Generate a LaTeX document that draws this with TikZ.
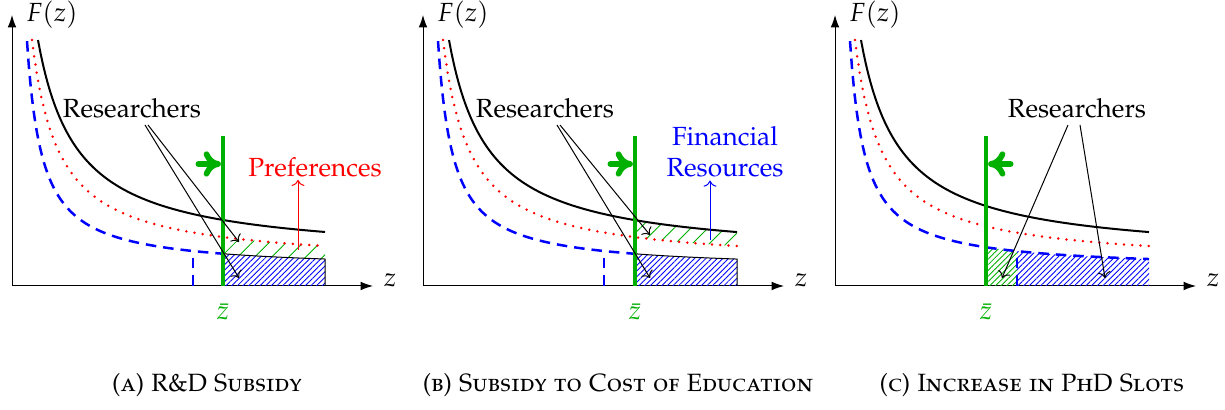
\documentclass[tikz,border=0pt]{standalone}
\usepackage[T1]{fontenc}
\usepackage[sc]{mathpazo}
\usetikzlibrary{arrows.meta,patterns.meta}
\definecolor{zgreen}{RGB}{0,176,0}
\tikzset{
  axis/.style={thin,-{Latex[length=5pt,width=3.5pt]}},
  blackcurve/.style={thick,black},
  redcurve/.style={red,line width=1.1pt,line cap=round,dash pattern=on 0pt off 3.3pt},
  bluecurve/.style={blue,line width=1pt,dash pattern=on 4.2pt off 2.8pt},
  zline/.style={zgreen,line width=1.6pt},
  thinarrow/.style={thin,-{To}},
  lbl/.style={font=\fontsize{10.5}{12.6}\selectfont,inner sep=1pt},
  bluehatch/.style={pattern={Lines[angle=45,distance=1.6pt,line width=0.35pt]},pattern color=blue},
  greenhatch/.style={pattern={Lines[angle=45,distance=1.6pt,line width=0.35pt]},pattern color=zgreen},
  sparsehatch/.style={pattern={Lines[angle=45,distance=4.8pt,line width=0.35pt]},pattern color=zgreen},
  capt/.style={font=\fontsize{10}{12}\selectfont\scshape},
  garrow/.pic={
    \draw[zgreen,line width=2.4pt,line cap=round] (-7.8pt,0) -- (-1pt,0);
    \draw[zgreen,line width=2.3pt,line cap=round,line join=round]
      (-4.6pt,3.9pt) .. controls (-3.7pt,1.7pt) and (-2pt,0.25pt) .. (0,0)
      .. controls (-2pt,-0.25pt) and (-3.7pt,-1.7pt) .. (-4.6pt,-3.9pt);
  },
}
\begin{document}
\begin{tikzpicture}[x=0.4pt,y=0.4pt,
  declare function={fb(\x)=27.6+8623/(\x+13.5); fr(\x)=20.7+6175/(\x+7.41); fu(\x)=16+3433/\x;}]
\useasboundingbox (0,0) rectangle (1225,410);
\fill[white] (0,0) rectangle (1225,410);

% ---------------- Panel A ----------------
\begin{scope}[shift={(12,124)}]
  \coordinate (oA) at (0,0);
  \coordinate (yA) at (0,271);
  \coordinate (xA) at (361,0);
  \draw[axis] (oA) -- (yA);
  \draw[axis] (oA) -- (xA);
  \node[lbl,anchor=west] (zA) at (369,6) {$z$};
  \node[lbl] (FA) at (40,271) {$F(z)$};
  % hatched regions
  \path[sparsehatch] plot[domain=211:313,samples=40] (\x,{fr(\x)}) -- plot[domain=313:211,samples=40] (\x,{fu(\x)}) -- cycle;
  \path[bluehatch] (211,0) -- plot[domain=211:313,samples=40] (\x,{fu(\x)}) -- (313,0) -- cycle;
  % curves
  \draw[blackcurve] plot[domain=26:313,samples=120] (\x,{fb(\x)});
  \draw[redcurve] plot[domain=20:313,samples=120] (\x,{fr(\x)});
  \draw[bluecurve] plot[domain=15:211,samples=120] (\x,{fu(\x)});
  \draw[bluecurve] (181,0) -- (181,{fu(181)});
  \draw[thin] (211,0) -- plot[domain=211:313,samples=40] (\x,{fu(\x)}) -- (313,0);
  % zbar
  \coordinate (zbA0) at (211,0);
  \coordinate (zbA1) at (211,150);
  \draw[zline] (zbA0) -- (zbA1);
  \node[lbl,text=zgreen] (zbA) at (211,-26) {$\bar z$};
  \coordinate (gaA) at (206,122);
  \pic at (gaA) {garrow};
  % labels
  \node[lbl] (rA) at (120,178) {Researchers};
  \coordinate (rA1) at (133,161);
  \coordinate (rA2) at (136,161);
  \coordinate (rAe1) at (227,8);
  \coordinate (rAe2) at (227,44);
  \draw[thinarrow] (rA1) -- (rAe1);
  \draw[thinarrow] (rA2) -- (rAe2);
  \node[lbl,text=red] (pA) at (303,119) {Preferences};
  \coordinate (pA0) at (286,36);
  \draw[thinarrow,red] (pA0) -- (pA.south -| pA0);
\end{scope}

% ---------------- Panel B ----------------
\begin{scope}[shift={(423,124)}]
  \coordinate (oB) at (0,0);
  \coordinate (yB) at (0,271);
  \coordinate (xB) at (361,0);
  \draw[axis] (oB) -- (yB);
  \draw[axis] (oB) -- (xB);
  \node[lbl,anchor=west] (zB) at (369,6) {$z$};
  \node[lbl] (FB) at (40,271) {$F(z)$};
  \path[sparsehatch] plot[domain=212:314,samples=40] (\x,{fb(\x)}) -- plot[domain=314:212,samples=40] (\x,{fr(\x)}) -- cycle;
  \path[bluehatch] (212,0) -- plot[domain=212:314,samples=40] (\x,{fu(\x)}) -- (314,0) -- cycle;
  \draw[blackcurve] plot[domain=26:314,samples=120] (\x,{fb(\x)});
  \draw[redcurve] plot[domain=20:314,samples=120] (\x,{fr(\x)});
  \draw[bluecurve] plot[domain=15:212,samples=120] (\x,{fu(\x)});
  \draw[bluecurve] (181,0) -- (181,{fu(181)});
  \draw[thin] (212,0) -- plot[domain=212:314,samples=40] (\x,{fu(\x)}) -- (314,0);
  \coordinate (zbB0) at (212,0);
  \coordinate (zbB1) at (212,150);
  \draw[zline] (zbB0) -- (zbB1);
  \node[lbl,text=zgreen] (zbB) at (212,-26) {$\bar z$};
  \coordinate (gaB) at (207,122);
  \pic at (gaB) {garrow};
  \node[lbl] (rB) at (122,178) {Researchers};
  \coordinate (rB1) at (134,161);
  \coordinate (rB2) at (137,161);
  \coordinate (rBe1) at (227,8);
  \coordinate (rBe2) at (227,51);
  \draw[thinarrow] (rB1) -- (rBe1);
  \draw[thinarrow] (rB2) -- (rBe2);
  \node[lbl,text=blue,align=center] (fB) at (302,134) {Financial\\Resources};
  \coordinate (fB0) at (287,46);
  \draw[thinarrow,blue] (fB0) -- (fB.south -| fB0);
\end{scope}

% ---------------- Panel C ----------------
\begin{scope}[shift={(835,124)}]
  \coordinate (oC) at (0,0);
  \coordinate (yC) at (0,271);
  \coordinate (xC) at (361,0);
  \draw[axis] (oC) -- (yC);
  \draw[axis] (oC) -- (xC);
  \node[lbl,anchor=west] (zC) at (369,6) {$z$};
  \node[lbl] (FC) at (40,271) {$F(z)$};
  \path[greenhatch] (151,0) -- plot[domain=151:182,samples=20] (\x,{fu(\x)}) -- (182,0) -- cycle;
  \path[bluehatch] (182,0) -- plot[domain=182:314,samples=40] (\x,{fu(\x)}) -- (314,0) -- cycle;
  \draw[blackcurve] plot[domain=26:314,samples=120] (\x,{fb(\x)});
  \draw[redcurve] plot[domain=20:314,samples=120] (\x,{fr(\x)});
  \draw[bluecurve] plot[domain=15:314,samples=140] (\x,{fu(\x)});
  \draw[bluecurve] (182,0) -- (182,{fu(182)});
  \coordinate (zbC0) at (151,0);
  \coordinate (zbC1) at (151,150);
  \draw[zline] (zbC0) -- (zbC1);
  \node[lbl,text=zgreen] (zbC) at (151,-26) {$\bar z$};
  \coordinate (gaC) at (156,122);
  \pic[xscale=-1] at (gaC) {garrow};
  \node[lbl] (rC) at (242,178) {Researchers};
  \coordinate (rC1) at (233,161);
  \coordinate (rC2) at (245,161);
  \coordinate (rCe1) at (167,8);
  \coordinate (rCe2) at (270,8);
  \draw[thinarrow] (rC1) -- (rCe1);
  \draw[thinarrow] (rC2) -- (rCe2);
\end{scope}

% captions
\node[capt] (cA) at (207,25) {(a) R\&D Subsidy};
\node[capt] (cB) at (618,25) {(b) Subsidy to Cost of Education};
\node[capt] (cC) at (1032,25) {(c) Increase in PhD Slots};
\end{tikzpicture}
\end{document}
